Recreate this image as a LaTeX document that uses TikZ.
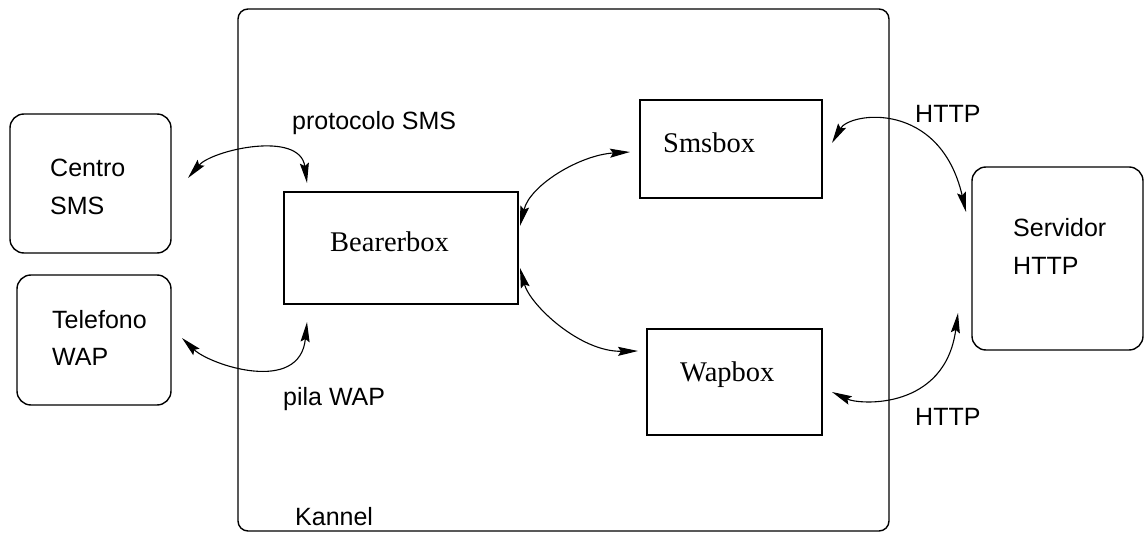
\documentclass[tikz,border=0pt]{standalone}
\usepackage{fontspec}
\setmainfont{Liberation Sans}
\newfontfamily\boxfont{Liberation Serif}
\usetikzlibrary{arrows.meta}
\begin{document}
\begin{tikzpicture}[x=1pt,y=-1pt,
  lbl/.style={font=\fontsize{25}{30}\selectfont, anchor=base west, inner sep=0pt},
  boxlbl/.style={font=\boxfont\fontsize{28.5}{32}\selectfont, anchor=base west, inner sep=0pt},
  rbox/.style={draw, line width=1.4pt, rounded corners=14pt},
  sbox/.style={draw, line width=1.4pt},
  tip/.style={Stealth[length=20pt,width=9pt,inset=3pt]},
  link/.style={line width=1.1pt, {Stealth[length=20pt,width=9pt,inset=3pt]}-{Stealth[length=20pt,width=9pt,inset=3pt]}}
]
\useasboundingbox[fill=white] (0,0) rectangle (1145,534);
% containers and boxes
\draw[rbox, rounded corners=10pt] (238,9) rectangle (889,531);
\node[lbl] (kannel) at (295,525) {Kannel};
\draw[rbox] (10,114) rectangle (171,253);
\draw[rbox] (17,275) rectangle (171,405);
\draw[rbox] (972,167) rectangle (1143,350);
\draw[sbox] (284,192) rectangle (518,304);
\draw[sbox] (640,100) rectangle (822,198);
\draw[sbox] (647,329) rectangle (822,435);
% texts
\node[lbl] (t1) at (50,177) {Centro};
\node[lbl] (t2) at (50,215) {SMS};
\node[lbl] (t3) at (52,328) {Telefono};
\node[lbl] (t4) at (52,365) {WAP};
\node[lbl] (t5) at (1013,237) {Servidor};
\node[lbl] (t6) at (1013,275) {HTTP};
\node[lbl] (proto) at (292,130) {protocolo SMS};
\node[lbl] (pila) at (283,405) {pila WAP};
\node[lbl] (http1) at (915,123) {HTTP};
\node[lbl] (http2) at (915,425) {HTTP};
\node[boxlbl] (tb) at (330,252) {Bearerbox};
\node[boxlbl] (ts) at (663,153) {Smsbox};
\node[boxlbl] (tw) at (680,381) {Wapbox};
% connector endpoints
\coordinate (c1a) at (188,178);
\coordinate (c1b) at (307,183);
\coordinate (c2a) at (182,338);
\coordinate (c2b) at (307,322);
\coordinate (c3a) at (520,226);
\coordinate (c3b) at (630,152);
\coordinate (c4a) at (520,268);
\coordinate (c4b) at (638,351);
\coordinate (c5a) at (832,143);
\coordinate (c5b) at (966,212);
\coordinate (c6a) at (832,392);
\coordinate (c6b) at (958,313);
% connectors
\draw[link] (c1a) .. controls (212,150) and (300,130) .. (c1b);
\draw[link] (c2a) .. controls (210,365) and (300,395) .. (c2b);
\draw[link] (c3a) .. controls (530,185) and (580,155) .. (c3b);
\draw[link] (c4a) .. controls (530,305) and (580,352) .. (c4b);
\draw[link] (c5a) .. controls (850,112) and (940,100) .. (c5b);
\draw[link] (c6a) .. controls (860,405) and (945,410) .. (c6b);
\end{tikzpicture}
\end{document}
